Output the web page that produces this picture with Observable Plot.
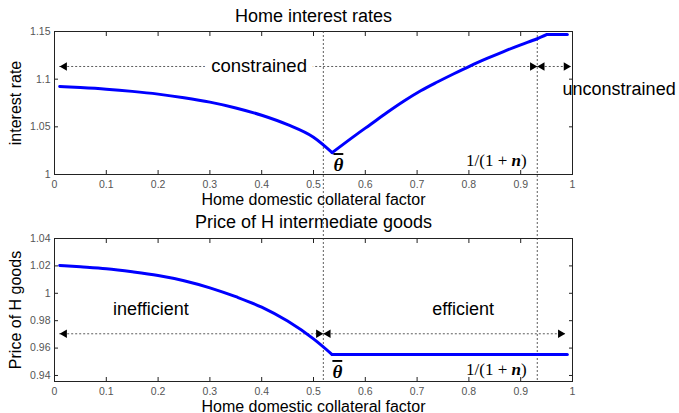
<!DOCTYPE html>
<html>
<head>
<meta charset="utf-8">
<script src="https://cdn.jsdelivr.net/npm/d3@7"></script>
<script src="https://cdn.jsdelivr.net/npm/@observablehq/plot@0.6"></script>
<style>
  body { margin: 0; background: #fff; }
  #chart { width: 679px; }
  #chart svg { display: block; }
</style>
</head>
<body>
<div id="chart"></div>
<script>
// Home domestic collateral factor grid and the model's equilibrium paths
const rateFactor = [0.01, 0.05, 0.1, 0.15, 0.2, 0.25, 0.3, 0.35, 0.4, 0.45, 0.5, 0.536,
  0.578, 0.61, 0.642, 0.674, 0.707, 0.739, 0.771, 0.803, 0.835, 0.867, 0.9, 0.932, 0.951, 0.99];
const interestRate = [1.0923, 1.0912, 1.0895, 1.0872, 1.0843, 1.0805, 1.0759, 1.0698, 1.0621, 1.0522, 1.0390, 1.0229,
  1.0400, 1.0525, 1.0650, 1.0768, 1.0878, 1.0970, 1.1057, 1.1140, 1.1217, 1.1290, 1.1360, 1.1424, 1.1469, 1.1469];

const priceFactor = [0.01, 0.05, 0.1, 0.15, 0.2, 0.25, 0.3, 0.35, 0.4, 0.45, 0.5, 0.536, 0.99];
const priceH = [1.0203, 1.0193, 1.0179, 1.0157, 1.0130, 1.0092, 1.0040, 0.9975, 0.9899, 0.9797, 0.9667, 0.9553, 0.9553];

// Regime thresholds: theta-bar and 1/(1+n)
const thetaBar = 0.519;
const oneOverOnePlusN = 0.932;

// Regime spans marked by double-headed arrows
const constrainedSpan = [0.01, oneOverOnePlusN];
const unconstrainedSpan = [oneOverOnePlusN, 0.997];
const inefficientSpan = [0.01, thetaBar];
const efficientSpan = [thetaBar, 0.986];

// Tick values and labels
const xTicks = [0, 0.1, 0.2, 0.3, 0.4, 0.5, 0.6, 0.7, 0.8, 0.9, 1];
const xTickLabels = ["0", "0.1", "0.2", "0.3", "0.4", "0.5", "0.6", "0.7", "0.8", "0.9", "1"];
const rateTicks = [1, 1.05, 1.1, 1.15];
const rateTickLabels = ["1", "1.05", "1.1", "1.15"];
const priceTicks = [0.94, 0.96, 0.98, 1, 1.02, 1.04];
const priceTickLabels = ["0.94", "0.96", "0.98", "1", "1.02", "1.04"];

// Split a path into smooth pieces at its kinks (turning point, start of plateau),
// so each piece can be drawn with a monotone curve while corners stay sharp.
function pieces(xs, ys) {
  const breaks = new Set();
  for (let i = 1; i < ys.length - 1; i++) {
    const a = ys[i] - ys[i - 1], b = ys[i + 1] - ys[i];
    if (Math.sign(a) !== Math.sign(b)) breaks.add(i);
  }
  const rows = [];
  let seg = 0;
  xs.forEach((x, i) => {
    rows.push({factor: x, value: ys[i], seg});
    if (breaks.has(i)) { seg++; rows.push({factor: x, value: ys[i], seg}); }
  });
  return rows;
}
const rateRows = pieces(rateFactor, interestRate);
const priceRows = pieces(priceFactor, priceH);

const W = 679;
const sans = "'Liberation Sans', Arial, sans-serif";
const serif = "'Liberation Serif', 'Times New Roman', serif";
const xLabelOf = new Map(xTicks.map((t, i) => [t, xTickLabels[i]]));

function frameAndTicks(yTicks, yTickLabels) {
  const yLabelOf = new Map(yTicks.map((t, i) => [t, yTickLabels[i]]));
  const blank = () => "";
  return [
    Plot.frame({stroke: "#222", strokeWidth: 1}),
    Plot.axisX(xTicks, {anchor: "bottom", tickSize: 0, tickPadding: 6, tickFormat: d => xLabelOf.get(d), color: "#555", fontSize: 10.5, label: null}),
    Plot.axisX(xTicks, {anchor: "bottom", tickSize: -4, tickFormat: blank, stroke: "#222", label: null}),
    Plot.axisX(xTicks, {anchor: "top", tickSize: -4, tickFormat: blank, stroke: "#222", label: null}),
    Plot.axisY(yTicks, {anchor: "left", tickSize: 0, tickPadding: 4, tickFormat: d => yLabelOf.get(d), color: "#555", fontSize: 10.5, label: null}),
    Plot.axisY(yTicks, {anchor: "left", tickSize: -4, tickFormat: blank, stroke: "#222", label: null}),
    Plot.axisY(yTicks, {anchor: "right", tickSize: -4, tickFormat: blank, stroke: "#222", label: null})
  ];
}

function arrowMarks(spans, y) {
  const rows = spans.map(([x1, x2]) => ({x1, x2, y}));
  return [
    Plot.ruleY(rows, {y: "y", x1: "x1", x2: "x2", stroke: "#333", strokeWidth: 0.8, strokeDasharray: "2,2"}),
    Plot.dot(rows, {x: "x1", y: "y", symbol: "triangle", r: 3.1, rotate: -90, dx: 4.8, fill: "black", stroke: "none"}),
    Plot.dot(rows, {x: "x2", y: "y", symbol: "triangle", r: 3.1, rotate: 90, dx: -4.8, fill: "black", stroke: "none"})
  ];
}

function titleAndLabels(title, titleDy, xLabel, yLabel) {
  return [
    Plot.text([title], {frameAnchor: "top", dy: titleDy, lineAnchor: "bottom", fontSize: 18, fill: "black"}),
    Plot.text([xLabel], {frameAnchor: "bottom", dy: 30, lineAnchor: "bottom", fontSize: 16, fill: "black"}),
    Plot.text([yLabel], {frameAnchor: "left", dx: -39, rotate: -90, textAnchor: "middle", lineAnchor: "middle", fontSize: 16, fill: "black"})
  ];
}

function curve(rows) {
  return Plot.line(rows, {x: "factor", y: "value", z: "seg", curve: "monotone-x", stroke: "#0000ff", strokeWidth: 3});
}

// Top panel: home interest rates
const ratePanel = Plot.plot({
  width: W, height: 206,
  marginLeft: 54, marginRight: 107, marginTop: 31, marginBottom: 32,
  style: {fontFamily: sans, background: "white", overflow: "visible"},
  x: {domain: [0, 1]},
  y: {domain: [1, 1.15]},
  marks: [
    ...frameAndTicks(rateTicks, rateTickLabels),
    Plot.ruleX([thetaBar, oneOverOnePlusN], {stroke: "#333", strokeWidth: 0.8, strokeDasharray: "2,2", insetBottom: -32}),
    ...arrowMarks([constrainedSpan, unconstrainedSpan], 1.1133),
    Plot.text([{label: "constrained", x: 0.395, y: 1.1133}], {x: "x", y: "y", text: "label", fontSize: 18.5, fill: "black", stroke: "white", strokeWidth: 14, paintOrder: "stroke"}),
    Plot.text([{label: "unconstrained", x: 1.09, y: 1.0899}], {x: "x", y: "y", text: "label", fontSize: 18, fill: "black"}),
    curve(rateRows),
    Plot.text([{label: "θ", x: 0.548, y: 1.0100}], {x: "x", y: "y", text: "label", fontSize: 19, fontWeight: "bold", fontStyle: "italic", fontFamily: serif, fill: "black"}),
    Plot.text([{label: "1/(1 + n)", x: 0.853, y: 1.0084}], {x: "x", y: "y", text: "label", lineAnchor: "bottom", fontSize: 17, fontFamily: serif, fill: "black"}),
    ...titleAndLabels("Home interest rates", -9.3, "Home domestic collateral factor", "interest rate")
  ]
});

// Bottom panel: price of home intermediate goods
const pricePanel = Plot.plot({
  width: W, height: 207,
  marginLeft: 54, marginRight: 107, marginTop: 32, marginBottom: 32,
  style: {fontFamily: sans, background: "white", overflow: "visible"},
  x: {domain: [0, 1]},
  y: {domain: [0.9356, 1.04]},
  marks: [
    ...frameAndTicks(priceTicks, priceTickLabels),
    Plot.ruleX([thetaBar, oneOverOnePlusN], {stroke: "#333", strokeWidth: 0.8, strokeDasharray: "2,2", insetTop: -32}),
    ...arrowMarks([inefficientSpan, efficientSpan], 0.97044),
    Plot.text([{label: "inefficient", x: 0.186, y: 0.9887}, {label: "efficient", x: 0.789, y: 0.9887}], {x: "x", y: "y", text: "label", fontSize: 18, fill: "black"}),
    curve(priceRows),
    Plot.text([{label: "θ", x: 0.546, y: 0.9426}], {x: "x", y: "y", text: "label", fontSize: 19, fontWeight: "bold", fontStyle: "italic", fontFamily: serif, fill: "black"}),
    Plot.text([{label: "1/(1 + n)", x: 0.853, y: 0.9404}], {x: "x", y: "y", text: "label", lineAnchor: "bottom", fontSize: 17, fontFamily: serif, fill: "black"}),
    ...titleAndLabels("Price of H intermediate goods", -10.5, "Home domestic collateral factor", "Price of H goods")
  ]
});

// Typeset the math labels: overlined bold-italic theta, bold-italic n
for (const svg of [ratePanel, pricePanel]) {
  svg.querySelectorAll("text").forEach(t => {
    if (t.textContent === "θ") {
      t.style.textDecoration = "overline";
    } else if (t.textContent === "1/(1 + n)") {
      t.textContent = "";
      const parts = [["1/(1 + ", false], ["n", true], [")", false]];
      for (const [s, em] of parts) {
        const ts = document.createElementNS("http://www.w3.org/2000/svg", "tspan");
        ts.textContent = s;
        if (em) { ts.setAttribute("font-weight", "bold"); ts.setAttribute("font-style", "italic"); }
        t.appendChild(ts);
      }
    }
  });
}

document.getElementById("chart").append(ratePanel, pricePanel);
</script>
</body>
</html>
